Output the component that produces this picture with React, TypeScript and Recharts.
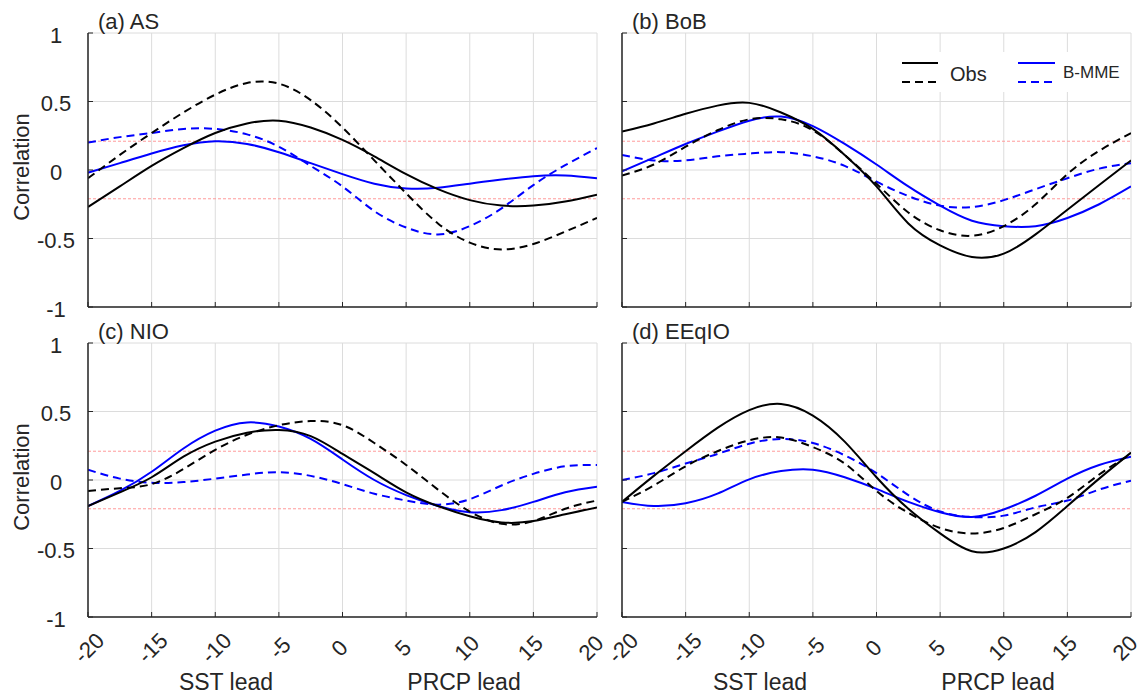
import React from 'react';
import { LineChart, Line, XAxis, YAxis, CartesianGrid, ReferenceLine } from 'recharts';

// Lead (months): negative = SST lead, positive = PRCP lead
const LEADS = [-20, -17.5, -15, -12.5, -10, -7.5, -5, -2.5, 0, 2.5, 5, 7.5, 10, 12.5, 15, 17.5, 20];
const X_TICKS = [-20, -15, -10, -5, 0, 5, 10, 15, 20];
const Y_TICKS = [-1, -0.5, 0, 0.5, 1];
const SIG = 0.21;

// (a) AS
const asObs = [-0.27, -0.12, 0.03, 0.16, 0.27, 0.34, 0.36, 0.31, 0.22, 0.10, -0.03, -0.14, -0.22, -0.26, -0.26, -0.23, -0.18];
const asObsD = [-0.06, 0.11, 0.27, 0.42, 0.55, 0.635, 0.63, 0.51, 0.31, 0.07, -0.17, -0.39, -0.53, -0.58, -0.54, -0.45, -0.35];
const asMme = [-0.02, 0.05, 0.12, 0.18, 0.21, 0.19, 0.13, 0.05, -0.03, -0.10, -0.135, -0.13, -0.10, -0.07, -0.045, -0.04, -0.06];
const asMmeD = [0.20, 0.24, 0.27, 0.30, 0.30, 0.26, 0.17, 0.03, -0.12, -0.30, -0.42, -0.47, -0.41, -0.28, -0.11, 0.035, 0.16];

// (b) BoB
const bobObs = [0.28, 0.34, 0.41, 0.47, 0.49, 0.42, 0.30, 0.11, -0.12, -0.39, -0.55, -0.635, -0.61, -0.47, -0.29, -0.11, 0.07];
const bobObsD = [-0.04, 0.04, 0.17, 0.29, 0.37, 0.37, 0.29, 0.11, -0.10, -0.31, -0.44, -0.48, -0.41, -0.25, -0.03, 0.14, 0.27];
const bobMme = [-0.01, 0.09, 0.19, 0.28, 0.36, 0.39, 0.32, 0.19, 0.04, -0.12, -0.26, -0.37, -0.41, -0.41, -0.35, -0.25, -0.12];
const bobMmeD = [0.11, 0.07, 0.07, 0.10, 0.12, 0.13, 0.10, 0.03, -0.085, -0.19, -0.26, -0.27, -0.22, -0.14, -0.06, 0.01, 0.05];

// (c) NIO
const nioObs = [-0.19, -0.09, 0.02, 0.17, 0.28, 0.345, 0.365, 0.32, 0.19, 0.05, -0.09, -0.19, -0.265, -0.31, -0.30, -0.25, -0.20];
const nioObsD = [-0.08, -0.06, -0.03, 0.08, 0.22, 0.33, 0.40, 0.43, 0.40, 0.27, 0.11, -0.07, -0.23, -0.32, -0.30, -0.21, -0.15];
const nioMme = [-0.19, -0.08, 0.06, 0.23, 0.36, 0.42, 0.39, 0.30, 0.15, 0.0, -0.11, -0.19, -0.235, -0.22, -0.16, -0.09, -0.05];
const nioMmeD = [0.075, 0.01, -0.02, -0.015, 0.01, 0.04, 0.057, 0.03, -0.03, -0.10, -0.15, -0.18, -0.14, -0.04, 0.045, 0.10, 0.11];

// (d) EEqIO
const eqObs = [-0.16, 0.03, 0.21, 0.38, 0.51, 0.555, 0.47, 0.28, 0.02, -0.21, -0.39, -0.52, -0.50, -0.38, -0.19, 0.01, 0.20];
const eqObsD = [-0.16, -0.04, 0.10, 0.21, 0.29, 0.31, 0.24, 0.12, -0.08, -0.24, -0.35, -0.39, -0.35, -0.25, -0.13, 0.04, 0.19];
const eqMme = [-0.16, -0.19, -0.17, -0.10, 0.005, 0.065, 0.075, 0.02, -0.065, -0.16, -0.235, -0.27, -0.215, -0.115, 0.01, 0.11, 0.17];
const eqMmeD = [0.0, 0.05, 0.12, 0.19, 0.265, 0.30, 0.27, 0.18, 0.05, -0.11, -0.23, -0.27, -0.26, -0.20, -0.15, -0.07, -0.005];

const FONT = "'Liberation Sans', Arial, Helvetica, sans-serif";
const AXIS = '#262626';
const BLUE = '#0000ff';

const ML = 88, MT = 33, MR = 22, XH = 80, PLOT_W = 509, PLOT_H = 274;
const CHART_W = ML + PLOT_W + MR;
const CHART_H = MT + PLOT_H + XH;

function buildRows(obs: number[], obsD: number[], mme: number[], mmeD: number[]) {
  return LEADS.map((x, i) => ({ x, obs: obs[i], obsD: obsD[i], mme: mme[i], mmeD: mmeD[i] }));
}

const panels = [
  { key: 'a', title: '(a) AS', rows: buildRows(asObs, asObsD, asMme, asMmeD), left: 88, top: 33, showY: true, showX: false },
  { key: 'b', title: '(b) BoB', rows: buildRows(bobObs, bobObsD, bobMme, bobMmeD), left: 622, top: 33, showY: false, showX: false },
  { key: 'c', title: '(c) NIO', rows: buildRows(nioObs, nioObsD, nioMme, nioMmeD), left: 88, top: 343, showY: true, showX: true },
  { key: 'd', title: '(d) EEqIO', rows: buildRows(eqObs, eqObsD, eqMme, eqMmeD), left: 622, top: 343, showY: false, showX: true },
];

function Panel({ rows, showY, showX }: { rows: any[]; showY: boolean; showX: boolean }) {
  const bottomTick = (p: any) => {
    const { x, y, payload } = p;
    const v = payload.value;
    const dx = v < 0 ? 1 : v === 20 ? -6 : -3;
    return (
      <g>
        <line x1={x} x2={x} y1={y} y2={y - 5} stroke={AXIS} strokeWidth={1} />
        {showX && (
          <text
            transform={`translate(${x + dx},${y + 31}) rotate(-45)`}
            textAnchor="middle"
            dominantBaseline="central"
            fontSize={22}
            fill="#262626"
            fontFamily={FONT}
          >
            {v}
          </text>
        )}
      </g>
    );
  };
  const topTick = (p: any) => {
    const { x, y } = p;
    return <line x1={x} x2={x} y1={y} y2={y + 5} stroke={AXIS} strokeWidth={1} />;
  };
  const leftTick = (p: any) => {
    const { x, y, payload } = p;
    return (
      <g>
        <line x1={x} x2={x + 5} y1={y} y2={y} stroke={AXIS} strokeWidth={1} />
        {showY && (
          <text x={x - 32} y={y + 2} textAnchor="middle" dominantBaseline="central" fontSize={22} fill="#262626" fontFamily={FONT}>
            {String(payload.value)}
          </text>
        )}
      </g>
    );
  };
  const rightTick = (p: any) => {
    const { x, y } = p;
    return <line x1={x} x2={x - 5} y1={y} y2={y} stroke={AXIS} strokeWidth={1} />;
  };
  const axisLine = { stroke: AXIS, strokeWidth: 1.5 };
  return (
    <LineChart width={CHART_W} height={CHART_H} data={rows} margin={{ top: MT, right: MR, left: 0, bottom: 0 }}>
      <CartesianGrid stroke="#dcdcdc" strokeWidth={1} />
      <XAxis
        dataKey="x"
        type="number"
        domain={[-20, 20]}
        ticks={X_TICKS}
        interval={0}
        tickSize={0}
        tickMargin={0}
        height={XH}
        axisLine={axisLine}
        tickLine={false}
        tick={bottomTick}
        allowDataOverflow
      />
      <XAxis
        xAxisId="top"
        orientation="top"
        dataKey="x"
        type="number"
        domain={[-20, 20]}
        ticks={X_TICKS}
        interval={0}
        tickSize={0}
        tickMargin={0}
        height={0}
        axisLine={axisLine}
        tickLine={false}
        tick={topTick}
        allowDataOverflow
      />
      <YAxis
        type="number"
        domain={[-1, 1]}
        ticks={Y_TICKS}
        interval={0}
        tickSize={0}
        tickMargin={0}
        width={ML}
        axisLine={axisLine}
        tickLine={false}
        tick={leftTick}
        allowDataOverflow
      />
      <YAxis
        yAxisId="right"
        orientation="right"
        type="number"
        domain={[-1, 1]}
        ticks={Y_TICKS}
        interval={0}
        tickSize={0}
        tickMargin={0}
        width={0}
        axisLine={axisLine}
        tickLine={false}
        tick={rightTick}
        allowDataOverflow
      />
      <ReferenceLine y={SIG} stroke="#ff9a9a" strokeDasharray="3 2" strokeWidth={1} />
      <ReferenceLine y={-SIG} stroke="#ff9a9a" strokeDasharray="3 2" strokeWidth={1} />
      <Line type="natural" dataKey="mmeD" stroke={BLUE} strokeWidth={2} strokeDasharray="8 5" dot={false} isAnimationActive={false} />
      <Line type="natural" dataKey="mme" stroke={BLUE} strokeWidth={2} dot={false} isAnimationActive={false} />
      <Line type="natural" dataKey="obsD" stroke="#000000" strokeWidth={2} strokeDasharray="8 5" dot={false} isAnimationActive={false} />
      <Line type="natural" dataKey="obs" stroke="#000000" strokeWidth={2} dot={false} isAnimationActive={false} />
    </LineChart>
  );
}

export default function App() {
  const textStyle = { fontFamily: FONT, fill: '#262626' } as any;
  return (
    <div style={{ position: 'absolute', left: 0, top: 0, width: 1142, height: 697, background: '#ffffff', overflow: 'hidden' }}>
      {panels.map((p) => (
        <div key={p.key} style={{ position: 'absolute', left: p.left - ML, top: p.top - MT, width: CHART_W, height: CHART_H }}>
          <Panel rows={p.rows} showY={p.showY} showX={p.showX} />
        </div>
      ))}
      <svg width={1142} height={697} style={{ position: 'absolute', left: 0, top: 0, pointerEvents: 'none' }}>
        {panels.map((p) => (
          <text key={'t' + p.key} x={p.left + 10} y={p.top - 4} fontSize={22} {...textStyle}>
            {p.title}
          </text>
        ))}
        {panels
          .filter((p) => p.showY)
          .map((p) => (
            <text
              key={'yl' + p.key}
              transform={`translate(21,${p.top + PLOT_H / 2 - 3}) rotate(-90)`}
              textAnchor="middle"
              dominantBaseline="central"
              fontSize={22}
              {...textStyle}
            >
              Correlation
            </text>
          ))}
        {panels
          .filter((p) => p.showX)
          .map((p) => (
            <g key={'xl' + p.key}>
              <text x={p.left + 138} y={690} textAnchor="middle" fontSize={23} {...textStyle}>
                SST lead
              </text>
              <text x={p.left + 376} y={690} textAnchor="middle" fontSize={23} {...textStyle}>
                PRCP lead
              </text>
            </g>
          ))}
        {/* Legend in panel (b) */}
        <rect x={893} y={52} width={236} height={40} fill="#ffffff" />
        <line x1={902} x2={938} y1={63} y2={63} stroke="#000" strokeWidth={2} />
        <line x1={902} x2={938} y1={82} y2={82} stroke="#000" strokeWidth={2} strokeDasharray="8 5" />
        <text x={950} y={80.5} fontSize={20} {...textStyle}>
          Obs
        </text>
        <line x1={1018} x2={1055} y1={63} y2={63} stroke={BLUE} strokeWidth={2} />
        <line x1={1018} x2={1055} y1={82} y2={82} stroke={BLUE} strokeWidth={2} strokeDasharray="8 5" />
        <text x={1063} y={77.5} fontSize={17} {...textStyle}>
          B-MME
        </text>
      </svg>
    </div>
  );
}
